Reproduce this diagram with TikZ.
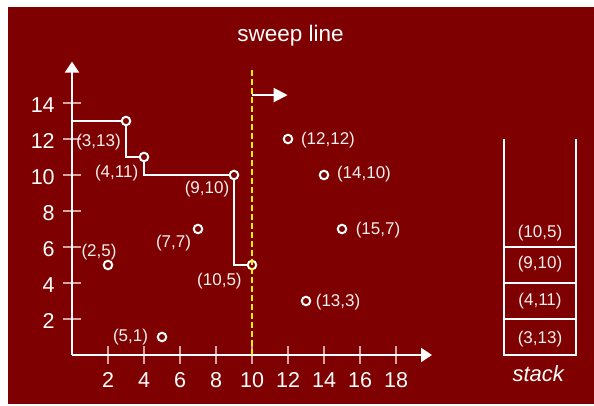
\documentclass[tikz,border=0pt]{standalone}
\usepackage{fontspec}
\setmainfont{Liberation Sans}
\usetikzlibrary{arrows.meta}
\definecolor{bg}{HTML}{7F0000}
\definecolor{sweepyellow}{HTML}{FFF000}
\tikzset{
  axisline/.style={draw=white, line width=2pt, -{Triangle[length=11pt,width=14pt]}},
  tickmark/.style={draw=white!65!bg, line width=1.5pt},
  ticklabel/.style={text=white, inner sep=0pt, font=\fontsize{21.5}{24}\selectfont},
  ptlabel/.style={text=white!94!bg, inner sep=0pt, font=\fontsize{17}{20}\selectfont},
  pt/.style={circle, draw=white, fill=bg, line width=2pt, minimum size=8.5pt, inner sep=0pt},
  stair/.style={draw=white, line width=2pt},
  sweepline/.style={draw=sweepyellow, line width=2pt, dash pattern=on 6pt off 3pt},
  sweeparrow/.style={draw=white, line width=2pt, -{Triangle[length=14pt,width=14pt]}},
  stackline/.style={draw=white, line width=2pt},
}
\begin{document}
\begin{tikzpicture}[x=1pt,y=1pt]
\useasboundingbox (0,0) rectangle (594,406);
\fill[bg] (8,2) rectangle (594,399);
\begin{scope}[shift={(72pt,51pt)}, x=18pt, y=18pt]
  % axes
  \coordinate (O) at (0,0);
  \coordinate (ytop) at (0,16.3);
  \coordinate (xend) at (20,0);
  \foreach \v in {2,4,...,14} {
    \draw[tickmark] (-0.5,\v) -- (0.5,\v);
    \node[ticklabel, anchor=base east] (yl\v) at (-0.95,\v-0.52) {\v};
  }
  \foreach \v in {2,4,...,18} {
    \draw[tickmark] (\v,-0.5) -- (\v,0.5);
    \node[ticklabel, anchor=base] (xl\v) at (\v,-1.81) {\v};
  }
  \draw[axisline] (O) -- (ytop);
  \draw[axisline] (O) -- (xend);
  % staircase
  \coordinate (s0) at (0,13);
  \coordinate (c313) at (3,13);
  \coordinate (c411) at (4,11);
  \coordinate (c910) at (9,10);
  \coordinate (c105) at (10,5);
  \draw[stair] (s0) -- (c313) |- (c411) |- (c910) |- (c105);
  % points
  \node[pt] (p313) at (c313) {};
  \node[pt] (p411) at (c411) {};
  \node[pt] (p910) at (c910) {};
  \node[pt] (p105) at (c105) {};
  \node[pt] (p1212) at (12,12) {};
  \node[pt] (p1410) at (14,10) {};
  \node[pt] (p157) at (15,7) {};
  \node[pt] (p133) at (13,3) {};
  \node[pt] (p77) at (7,7) {};
  \node[pt] (p25) at (2,5) {};
  \node[pt] (p51) at (5,1) {};
  % point labels
  \node[ptlabel] (l313) at (1.47,11.85) {(3,13)};
  \node[ptlabel] (l411) at (2.48,10.11) {(4,11)};
  \node[ptlabel] (l910) at (7.5,9.22) {(9,10)};
  \node[ptlabel] (l105) at (8.19,4.11) {(10,5)};
  \node[ptlabel] (l77) at (5.64,6.2) {(7,7)};
  \node[ptlabel] (l25) at (1.5,5.7) {(2,5)};
  \node[ptlabel] (l51) at (3.25,0.98) {(5,1)};
  \node[ptlabel] (l1212) at (14.22,11.94) {(12,12)};
  \node[ptlabel] (l1410) at (16.22,10.06) {(14,10)};
  \node[ptlabel] (l157) at (17,6.94) {(15,7)};
  \node[ptlabel] (l133) at (14.78,2.96) {(13,3)};
  % sweep line
  \coordinate (sb) at (10,0);
  \coordinate (st) at (10,16);
  \draw[sweepline] (sb) -- (st);
  \coordinate (as) at (10,14.44);
  \coordinate (ae) at (11.98,14.44);
  \draw[sweeparrow] (as) -- (ae);
  \node[text=white, inner sep=0pt, anchor=base, font=\fontsize{22.5}{26}\selectfont] (title) at (12.14,17.41) {sweep line};
  % stack
  \draw[stackline] (24,12) -- (24,0) -- (28,0) -- (28,12);
  \foreach \v in {2,4,6} { \draw[stackline] (24,\v) -- (28,\v); }
  \node[ptlabel] (s1) at (26,6.76) {(10,5)};
  \node[ptlabel] (s2) at (26,5.05) {(9,10)};
  \node[ptlabel] (s3) at (26,3.0) {(4,11)};
  \node[ptlabel] (s4) at (26,0.9) {(3,13)};
  \node[text=white, inner sep=0pt, anchor=base, font=\itshape\fontsize{22}{26}\selectfont] (stacklabel) at (25.9,-1.48) {stack};
\end{scope}
\end{tikzpicture}
\end{document}
